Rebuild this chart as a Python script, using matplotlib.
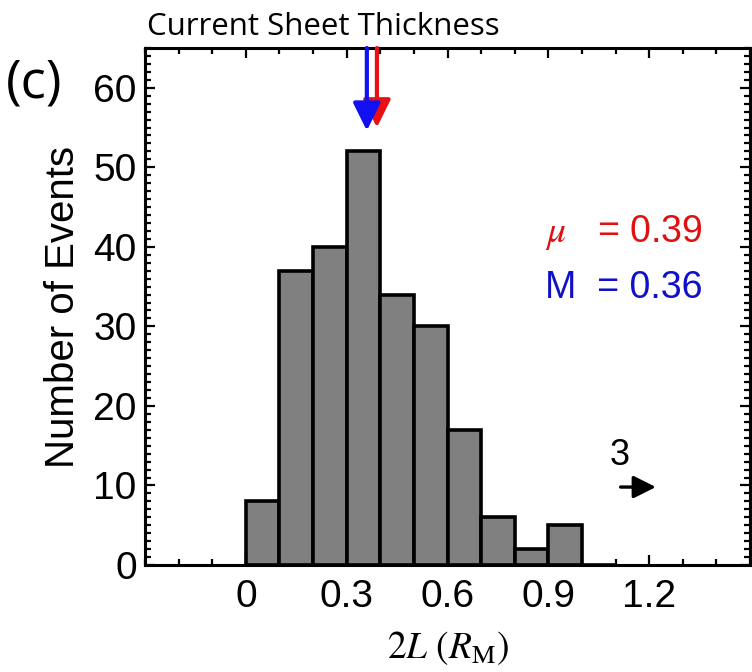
import numpy as np
import matplotlib
matplotlib.use("Agg")
import matplotlib.pyplot as plt
from matplotlib.ticker import MultipleLocator

plt.rcParams['mathtext.fontset'] = 'stix'

# histogram of current sheet thickness 2L (R_M)
bin_left = [0.0, 0.1, 0.2, 0.3, 0.4, 0.5, 0.6, 0.7, 0.8, 0.9, 1.0]
counts = [8, 37, 40, 52, 34, 30, 17, 6, 2, 5, 0]
bin_width = 0.1

mean_val = 0.39
median_val = 0.36
n_beyond = 3  # events outside the plotted range

fig = plt.figure(figsize=(7.52, 6.72), dpi=100)
ax = fig.add_axes([145/752, 107/672, 605/752, 517/672])

ax.bar(bin_left, counts, width=bin_width, align='edge', color='#808080',
       edgecolor='black', linewidth=2.6, zorder=2)

ax.set_xlim(-0.3, 1.5)
ax.set_ylim(0, 65)

ax.xaxis.set_minor_locator(MultipleLocator(0.1))
ax.yaxis.set_major_locator(MultipleLocator(10))
ax.yaxis.set_minor_locator(MultipleLocator(1))
ax.set_xticks([0, 0.3, 0.6, 0.9, 1.2])
ax.set_xticklabels(['0', '0.3', '0.6', '0.9', '1.2'])

ax.tick_params(which='both', direction='in', top=True, right=True,
               labelsize=28, width=1.6)
ax.tick_params(axis='y', pad=6)
ax.tick_params(axis='x', pad=10)
ax.tick_params(which='major', length=7)
ax.tick_params(which='minor', length=4)
for lab in ax.get_xticklabels() + ax.get_yticklabels():
    lab.set_family('Liberation Sans')
for sp in ax.spines.values():
    sp.set_linewidth(2.2)

ax.set_ylabel('Number of Events', fontsize=29, family='Liberation Sans', labelpad=8)
ax.set_xlabel(r'$2L\ (R_{\mathrm{M}})$', fontsize=27, labelpad=10)

# mean / median arrows (median drawn on top)
head = '-|>,head_length=0.85,head_width=0.42'
ax.annotate('', xy=(mean_val, 55.0), xytext=(mean_val, 65),
            arrowprops=dict(arrowstyle=head, color='#e81010', lw=3.0,
                            mutation_scale=20, shrinkA=0, shrinkB=0),
            zorder=4, annotation_clip=False)
ax.annotate('', xy=(median_val, 54.6), xytext=(median_val, 65),
            arrowprops=dict(arrowstyle=head, color='#1010f0', lw=3.0,
                            mutation_scale=20, shrinkA=0, shrinkB=0),
            zorder=5, annotation_clip=False)

ax.text(1.36, 41.8, r'$\mu$' + '   = %.2f' % mean_val, color='#e01010', fontsize=27,
        family='Liberation Sans', ha='right', va='center')
ax.text(1.36, 34.8, 'M  = %.2f' % median_val, color='#1010c8', fontsize=27,
        family='Liberation Sans', ha='right', va='center')

# events beyond range
ax.text(1.113, 13.8, str(n_beyond), fontsize=26, family='Liberation Sans',
        ha='center', va='center')
ax.annotate('', xy=(1.22, 9.8), xytext=(1.115, 9.8),
            arrowprops=dict(arrowstyle='-|>,head_length=0.8,head_width=0.4',
                            color='black', lw=2.4, mutation_scale=17,
                            shrinkA=0, shrinkB=0))

fig.text(147/752, 1 - 27/672, 'Current Sheet Thickness', fontsize=22.5,
         family='Open Sans', ha='left', va='center')
fig.text(6/752, 1 - 84/672, '(c)', fontsize=38, family='Open Sans',
         ha='left', va='center')

fig.savefig('out.png', dpi=100)
